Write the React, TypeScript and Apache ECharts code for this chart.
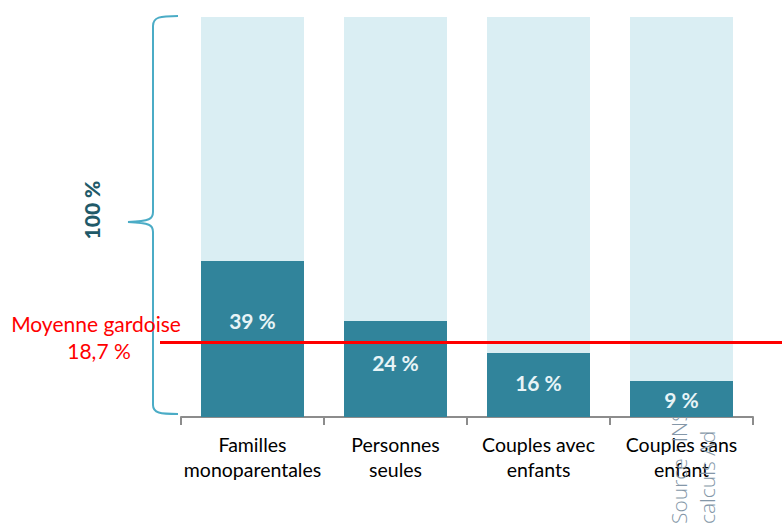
import React, { useEffect, useRef } from "react";
import * as echarts from "echarts";

const categories = ["Familles\nmonoparentales", "Personnes\nseules", "Couples avec\nenfants", "Couples sans\nenfant"];
const shares = [39, 24, 16, 9];
const shareLabels = ["39 %", "24 %", "16 %", "9 %"];
const labelOffsets = [-19, -7, -3, 0];
const average = 18.7;
const averageLabel = ["Moyenne gardoise", "18,7 %"];
const totalLabel = "100 %";
const sourceLines = ["Source : INS", "calculs Ad"];

const BRACE =
  "M178 16 C160 16 153 17 153 26 L153 212 C153 219 150 221 128 222 C150 223 153 225 153 232 L153 405 C153 413 160 414 178 414";

let registered = false;

export default function App() {
  const ref = useRef<HTMLDivElement>(null);
  useEffect(() => {
    if (!ref.current) return;
    if (!registered) {
      echarts.graphic.registerShape("brace", echarts.graphic.extendPath(BRACE, {}));
      registered = true;
    }
    const chart = echarts.init(ref.current, null, { renderer: "svg" });
    const font = "Lato, 'Open Sans', sans-serif";
    chart.setOption({
      animation: false,
      backgroundColor: "#ffffff",
      grid: { left: 181, right: 29, top: 17, bottom: 109, containLabel: false },
      xAxis: {
        type: "category",
        data: categories,
        axisLine: { show: true, lineStyle: { color: "#8c8c8c", width: 2 } },
        axisTick: { show: true, length: 8, lineStyle: { color: "#8c8c8c", width: 2 } },
        axisLabel: {
          color: "#000000",
          fontFamily: font,
          fontSize: 19.5,
          lineHeight: 25,
          margin: 15,
          interval: 0,
        },
      },
      yAxis: {
        type: "value",
        min: 0,
        max: 100,
        show: false,
        splitLine: { show: false },
      },
      series: [
        {
          type: "bar",
          barWidth: 103,
          clip: false,
          showBackground: true,
          backgroundStyle: { color: "#daeef3" },
          itemStyle: { color: "#31849b" },
          data: shares.map((v, i) => ({
            value: v,
            label: { offset: [0, labelOffsets[i]] },
          })),
          label: {
            show: true,
            position: "inside",
            color: "#e8f4f7",
            fontFamily: font,
            fontWeight: "bold",
            fontSize: 21,
            formatter: (p: any) => shareLabels[p.dataIndex],
          },
          markLine: {
            silent: true,
            symbol: "none",
            label: { show: false },
            lineStyle: { color: "#ff0000", width: 3, type: "solid" },
            data: [[{ x: 160, yAxis: average }, { x: 782, yAxis: average }]],
          },
          z: 2,
        },
      ],
      graphic: [
        {
          type: "brace",
          x: 0,
          y: 0,
          style: { fill: "none", stroke: "#4bacc6", lineWidth: 2 },
          z: 10,
        },
        {
          type: "text",
          x: 91,
          y: 210,
          rotation: Math.PI / 2,
          style: {
            text: totalLabel,
            fill: "#215968",
            font: `900 21px ${font}`,
            textAlign: "center",
            textVerticalAlign: "middle",
          },
          z: 10,
        },
        {
          type: "text",
          x: 96,
          y: 323,
          style: {
            text: averageLabel[0],
            fill: "#ff0000",
            font: `21px ${font}`,
            textAlign: "center",
            textVerticalAlign: "middle",
          },
          z: 10,
        },
        {
          type: "text",
          x: 99,
          y: 350,
          style: {
            text: averageLabel[1],
            fill: "#ff0000",
            font: `21px ${font}`,
            textAlign: "center",
            textVerticalAlign: "middle",
          },
          z: 10,
        },
        {
          type: "text",
          x: 679,
          y: 524,
          rotation: Math.PI / 2,
          style: {
            text: sourceLines[0],
            fill: "#8497a8",
            font: `300 21px 'Open Sans', sans-serif`,
            textAlign: "left",
            textVerticalAlign: "middle",
          },
          z: 1,
        },
        {
          type: "text",
          x: 707,
          y: 524,
          rotation: Math.PI / 2,
          style: {
            text: sourceLines[1],
            fill: "#8497a8",
            font: `300 21px 'Open Sans', sans-serif`,
            textAlign: "left",
            textVerticalAlign: "middle",
          },
          z: 1,
        },
      ],
    });
    return () => chart.dispose();
  }, []);
  return <div ref={ref} style={{ width: 782, height: 526, position: "fixed", left: 0, top: 0 }} />;
}
